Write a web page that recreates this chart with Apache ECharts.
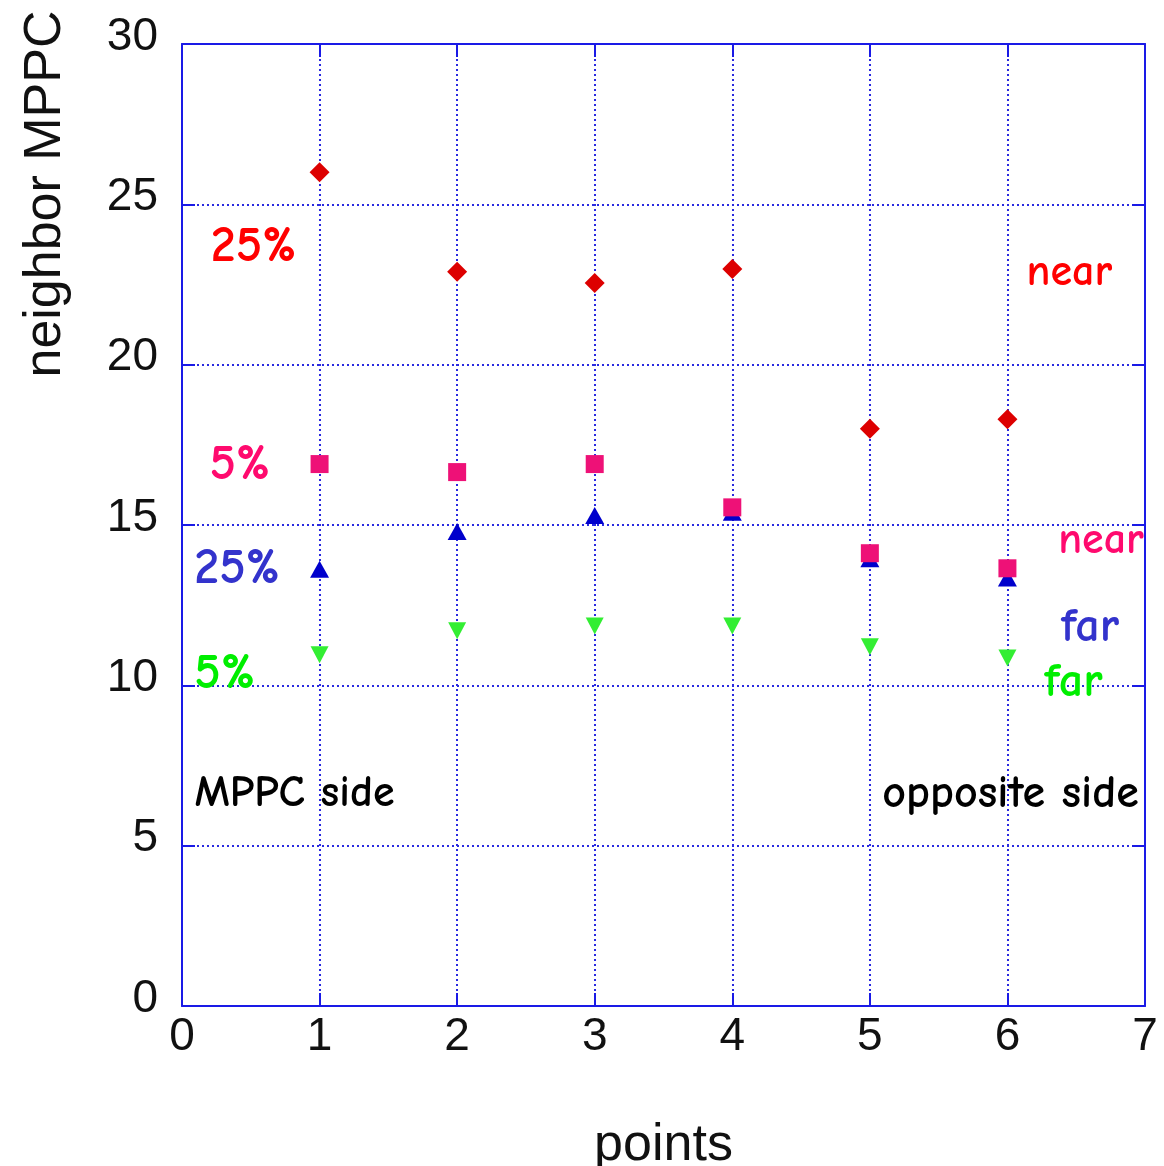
<!DOCTYPE html>
<html>
<head>
<meta charset="utf-8">
<title>neighbor MPPC vs points</title>
<script src="https://cdn.jsdelivr.net/npm/echarts@6/dist/echarts.min.js"></script>
<style>
  html, body { margin: 0; padding: 0; background: #ffffff; }
  #chart { width: 1164px; height: 1166px; }
</style>
</head>
<body>
<div id="chart"></div>
<script>
// measurement points along the fibre
var points = [1, 2, 3, 4, 5, 6];

// neighbor MPPC values for each threshold / neighbour position
var near25 = [26.0, 22.9, 22.55, 22.98, 18.0, 18.3];
var near5  = [16.9, 16.65, 16.9, 15.55, 14.12, 13.65];
var far25  = [13.62, 14.8, 15.3, 15.4, 13.95, 13.35];
var far5   = [10.95, 11.7, 11.85, 11.85, 11.2, 10.85];

// axis ranges and tick spacing
var xTicks = { min: 0, max: 7, step: 1 };
var yTicks = { min: 0, max: 30, step: 5 };

// free-text annotations, anchored in data units
var annoText = ['25%', 'near', '5%', 'near', '25%', 'far', '5%', 'far', 'MPPC side', 'opposite side'];
var annoX    = [0.52, 6.45, 0.42, 6.68, 0.40, 6.60, 0.31, 6.48, 0.09, 5.09];
var annoY    = [23.67, 22.86, 16.87, 14.53, 13.62, 11.82, 10.35, 10.1, 6.61, 6.61];
var annoKind = ['red', 'red', 'pink', 'pink', 'blue', 'blue', 'green', 'green', 'black', 'black'];

var handFont = '"Comic Sans MS", "Comic Neue", "Noto Sans", sans-serif';
var axisFont = '"Liberation Sans", Arial, sans-serif';
var frameBlue = '#1a1ae6';
var gridBlue = '#2a2ae0';

// look of each annotation group
var kindColor = { red: '#ff0000', pink: '#ff0a6e', blue: '#3333cc', green: '#00ee00', black: '#000000' };

function annoLook(text, kind) {
  var isPct = text.indexOf('%') >= 0;
  return {
    color: kindColor[kind],
    fontSize: isPct ? 50 : (text === 'far' ? 48 : (text === 'opposite side' ? 46 : 44)),
    align: kind === 'black' ? 'left' : 'center'
  };
}

function pairs(ys) {
  return points.map(function (x, i) { return [x, ys[i]]; });
}

var annoSeries = annoText.map(function (t, i) {
  var look = annoLook(t, annoKind[i]);
  return {
    type: 'scatter',
    symbolSize: 0,
    silent: true,
    z: 5,
    itemStyle: { opacity: 1 },
    data: [[annoX[i], annoY[i]]],
    label: {
      show: true,
      position: 'inside',
      formatter: t,
      color: look.color,
      opacity: 1,
      fontFamily: handFont,
      fontWeight: 'bold',
      fontSize: look.fontSize,
      align: look.align,
      verticalAlign: 'middle'
    }
  };
});

var chart = echarts.init(document.getElementById('chart'), null, { renderer: 'canvas' });

var splitStyle = { show: true, lineStyle: { color: gridBlue, width: 2, type: [2, 3] } };
var frameLine = { show: true, onZero: false, lineStyle: { color: frameBlue, width: 2 } };
var tickIn = { show: true, inside: true, length: 13, lineStyle: { color: frameBlue, width: 2 } };

chart.setOption({
  backgroundColor: '#ffffff',
  animation: false,
  grid: { left: 182, top: 44, width: 963, height: 962, containLabel: false, outerBoundsMode: 'none' },
  xAxis: [{
    type: 'value',
    min: xTicks.min, max: xTicks.max, interval: xTicks.step,
    position: 'bottom',
    name: 'points',
    nameLocation: 'middle',
    nameGap: 114,
    nameTextStyle: { fontFamily: axisFont, fontSize: 52, color: '#111111' },
    axisLine: frameLine,
    axisTick: tickIn,
    splitLine: splitStyle,
    axisLabel: { fontFamily: axisFont, fontSize: 46, color: '#111111', margin: 8 }
  }, {
    type: 'value',
    min: xTicks.min, max: xTicks.max, interval: xTicks.step,
    position: 'top',
    axisLine: frameLine,
    axisTick: tickIn,
    splitLine: { show: false },
    axisLabel: { show: false }
  }],
  yAxis: [{
    type: 'value',
    min: yTicks.min, max: yTicks.max, interval: yTicks.step,
    position: 'left',
    axisLine: frameLine,
    axisTick: tickIn,
    splitLine: splitStyle,
    axisLabel: {
      fontFamily: axisFont, fontSize: 46, color: '#111111', margin: 24,
      verticalAlign: 'bottom', lineHeight: 14
    }
  }, {
    type: 'value',
    min: yTicks.min, max: yTicks.max, interval: yTicks.step,
    position: 'right',
    axisLine: frameLine,
    axisTick: tickIn,
    splitLine: { show: false },
    axisLabel: { show: false }
  }],
  graphic: [{
    type: 'text',
    x: 46,
    y: 194,
    rotation: Math.PI / 2,
    style: {
      text: 'neighbor MPPC',
      fontFamily: axisFont,
      fontSize: 52,
      fill: '#111111',
      align: 'center',
      verticalAlign: 'middle'
    }
  }],
  series: [{
    name: '25% far',
    type: 'scatter',
    symbol: 'triangle',
    symbolSize: [19, 17],
    itemStyle: { color: '#0000cc', opacity: 1 },
    z: 3,
    data: pairs(far25)
  }, {
    name: '5% far',
    type: 'scatter',
    symbol: 'triangle',
    symbolRotate: 180,
    symbolSize: [18, 17],
    itemStyle: { color: '#33ee33', opacity: 1 },
    z: 3,
    data: pairs(far5)
  }, {
    name: '5% near',
    type: 'scatter',
    symbol: 'rect',
    symbolSize: 18,
    itemStyle: { color: '#ee1177', opacity: 1 },
    z: 4,
    data: pairs(near5)
  }, {
    name: '25% near',
    type: 'scatter',
    symbol: 'diamond',
    symbolSize: [20, 20],
    itemStyle: { color: '#dd0000', opacity: 1 },
    z: 4,
    data: pairs(near25)
  }].concat(annoSeries)
});
</script>
</body>
</html>
